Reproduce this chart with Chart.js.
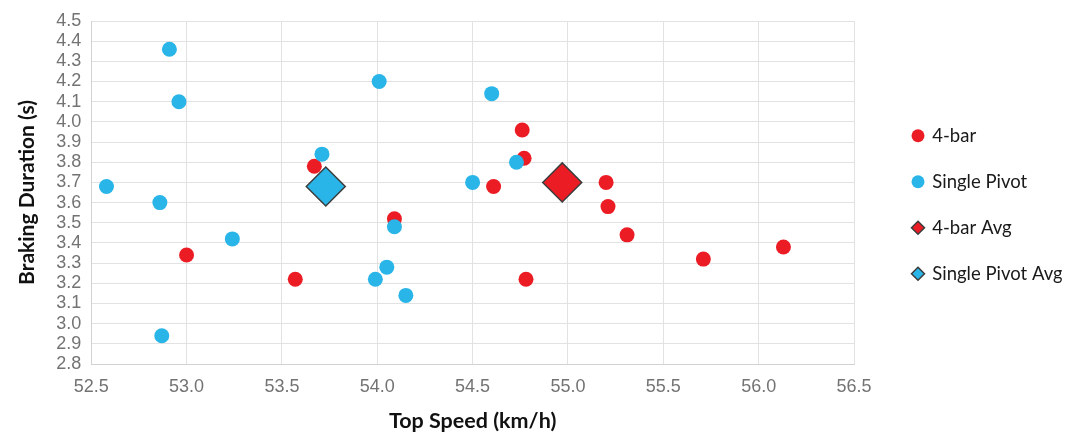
<!DOCTYPE html>
<html><head><meta charset="utf-8">
<script src="https://cdn.jsdelivr.net/npm/chart.js@4"></script>
<style>html,body{margin:0;padding:0;background:#fff;overflow:hidden}</style>
</head><body>
<canvas id="c" width="1065" height="437"></canvas>
<script>
// ---- data ----
const seriesNames = ['4-bar', 'Single Pivot', '4-bar Avg', 'Single Pivot Avg'];
const fourBarSpeed   = [53.67, 54.09, 53.00, 53.57, 54.76, 54.77, 54.61, 55.20, 55.21, 55.31, 54.78, 55.71, 56.13];
const fourBarBraking = [3.78, 3.52, 3.34, 3.22, 3.96, 3.82, 3.68, 3.70, 3.58, 3.44, 3.22, 3.32, 3.38];
const pivotSpeed   = [52.91, 52.96, 52.58, 52.86, 53.24, 52.87, 53.71, 54.01, 54.09, 54.05, 53.99, 54.15, 54.60, 54.50, 54.73];
const pivotBraking = [4.36, 4.10, 3.68, 3.60, 3.42, 2.94, 3.84, 4.20, 3.48, 3.28, 3.22, 3.14, 4.14, 3.70, 3.80];
const fourBarAvgSpeed = [54.97];
const fourBarAvgBraking = [3.70];
const pivotAvgSpeed = [53.73];
const pivotAvgBraking = [3.68];
const xRange = [52.5, 56.5];
const xStep = 0.5;
const yRange = [2.8, 4.5];
const yStep = 0.1;
const xTitle = 'Top Speed (km/h)';
const yTitle = 'Braking Duration (s)';

const RED = '#EC1C24';
const BLUE = '#29B5E8';
const pts = (xs, ys) => xs.map((x, i) => ({x: x, y: ys[i]}));

Chart.defaults.font.family = 'Lato, "Liberation Sans", sans-serif';

new Chart(document.getElementById('c'), {
  type: 'scatter',
  data: {
    datasets: [
      {label: seriesNames[0], data: pts(fourBarSpeed, fourBarBraking), order: 4,
       pointStyle: 'circle', pointRadius: 7.5, pointHoverRadius: 7.5,
       backgroundColor: RED, borderColor: RED, borderWidth: 0},
      {label: seriesNames[1], data: pts(pivotSpeed, pivotBraking), order: 3,
       pointStyle: 'circle', pointRadius: 7.5, pointHoverRadius: 7.5,
       backgroundColor: BLUE, borderColor: BLUE, borderWidth: 0},
      {label: seriesNames[2], data: pts(fourBarAvgSpeed, fourBarAvgBraking), order: 2,
       pointStyle: 'rectRot', pointRadius: 19.5, pointHoverRadius: 19.5,
       backgroundColor: RED, borderColor: '#3d3d3d', borderWidth: 1.5},
      {label: seriesNames[3], data: pts(pivotAvgSpeed, pivotAvgBraking), order: 1,
       pointStyle: 'rectRot', pointRadius: 19.5, pointHoverRadius: 19.5,
       backgroundColor: BLUE, borderColor: '#3d3d3d', borderWidth: 1.5}
    ]
  },
  options: {
    responsive: false,
    animation: false,
    events: [],
    layout: {padding: {left: 4, top: 20, right: 3.2, bottom: 0}},
    plugins: {
      tooltip: {enabled: false},
      legend: {
        position: 'right',
        align: 'start',
        title: {display: true, text: ' ', padding: {top: 69, bottom: 0}, font: {size: 10, lineHeight: 1}},
        labels: {
          usePointStyle: true,
          boxWidth: 10,
          boxHeight: 9.2,
          padding: 27.5,
          color: '#1a1a1a',
          font: {size: 18.5, family: 'Lato'},
          sort: (a, b) => a.datasetIndex - b.datasetIndex
        }
      }
    },
    scales: {
      x: {
        type: 'linear',
        min: xRange[0], max: xRange[1],
        ticks: {stepSize: xStep, padding: 12.2, color: '#737373', autoSkip: false,
                font: {size: 18, family: '"Liberation Sans", Arial, sans-serif'},
                callback: v => Number(v).toFixed(1)},
        grid: {color: '#e2e2e2', drawTicks: false},
        border: {color: '#d2d2d2'},
        title: {display: true, text: xTitle, color: '#111',
                font: {size: 21.5, weight: 'bold', family: 'Lato', lineHeight: 1},
                padding: {top: 0, bottom: 5.5}}
      },
      y: {
        type: 'linear',
        min: yRange[0], max: yRange[1],
        ticks: {stepSize: yStep, padding: 10, color: '#737373', autoSkip: false,
                font: {size: 18, family: '"Liberation Sans", Arial, sans-serif'},
                callback: v => Number(v).toFixed(1)},
        grid: {color: '#e2e2e2', drawTicks: false},
        border: {color: '#d2d2d2'},
        title: {display: true, text: yTitle, color: '#111',
                font: {size: 21, weight: 'bold', family: 'Lato'},
                padding: {top: 11, bottom: 6}}
      },
      gap: {
        type: 'linear', position: 'right', display: true,
        grid: {display: false}, ticks: {display: false}, border: {display: false},
        title: {display: true, text: ' ', font: {size: 10, lineHeight: 1}, padding: {top: 0, bottom: 13.5}}
      }
    }
  }
});
</script>
</body></html>
